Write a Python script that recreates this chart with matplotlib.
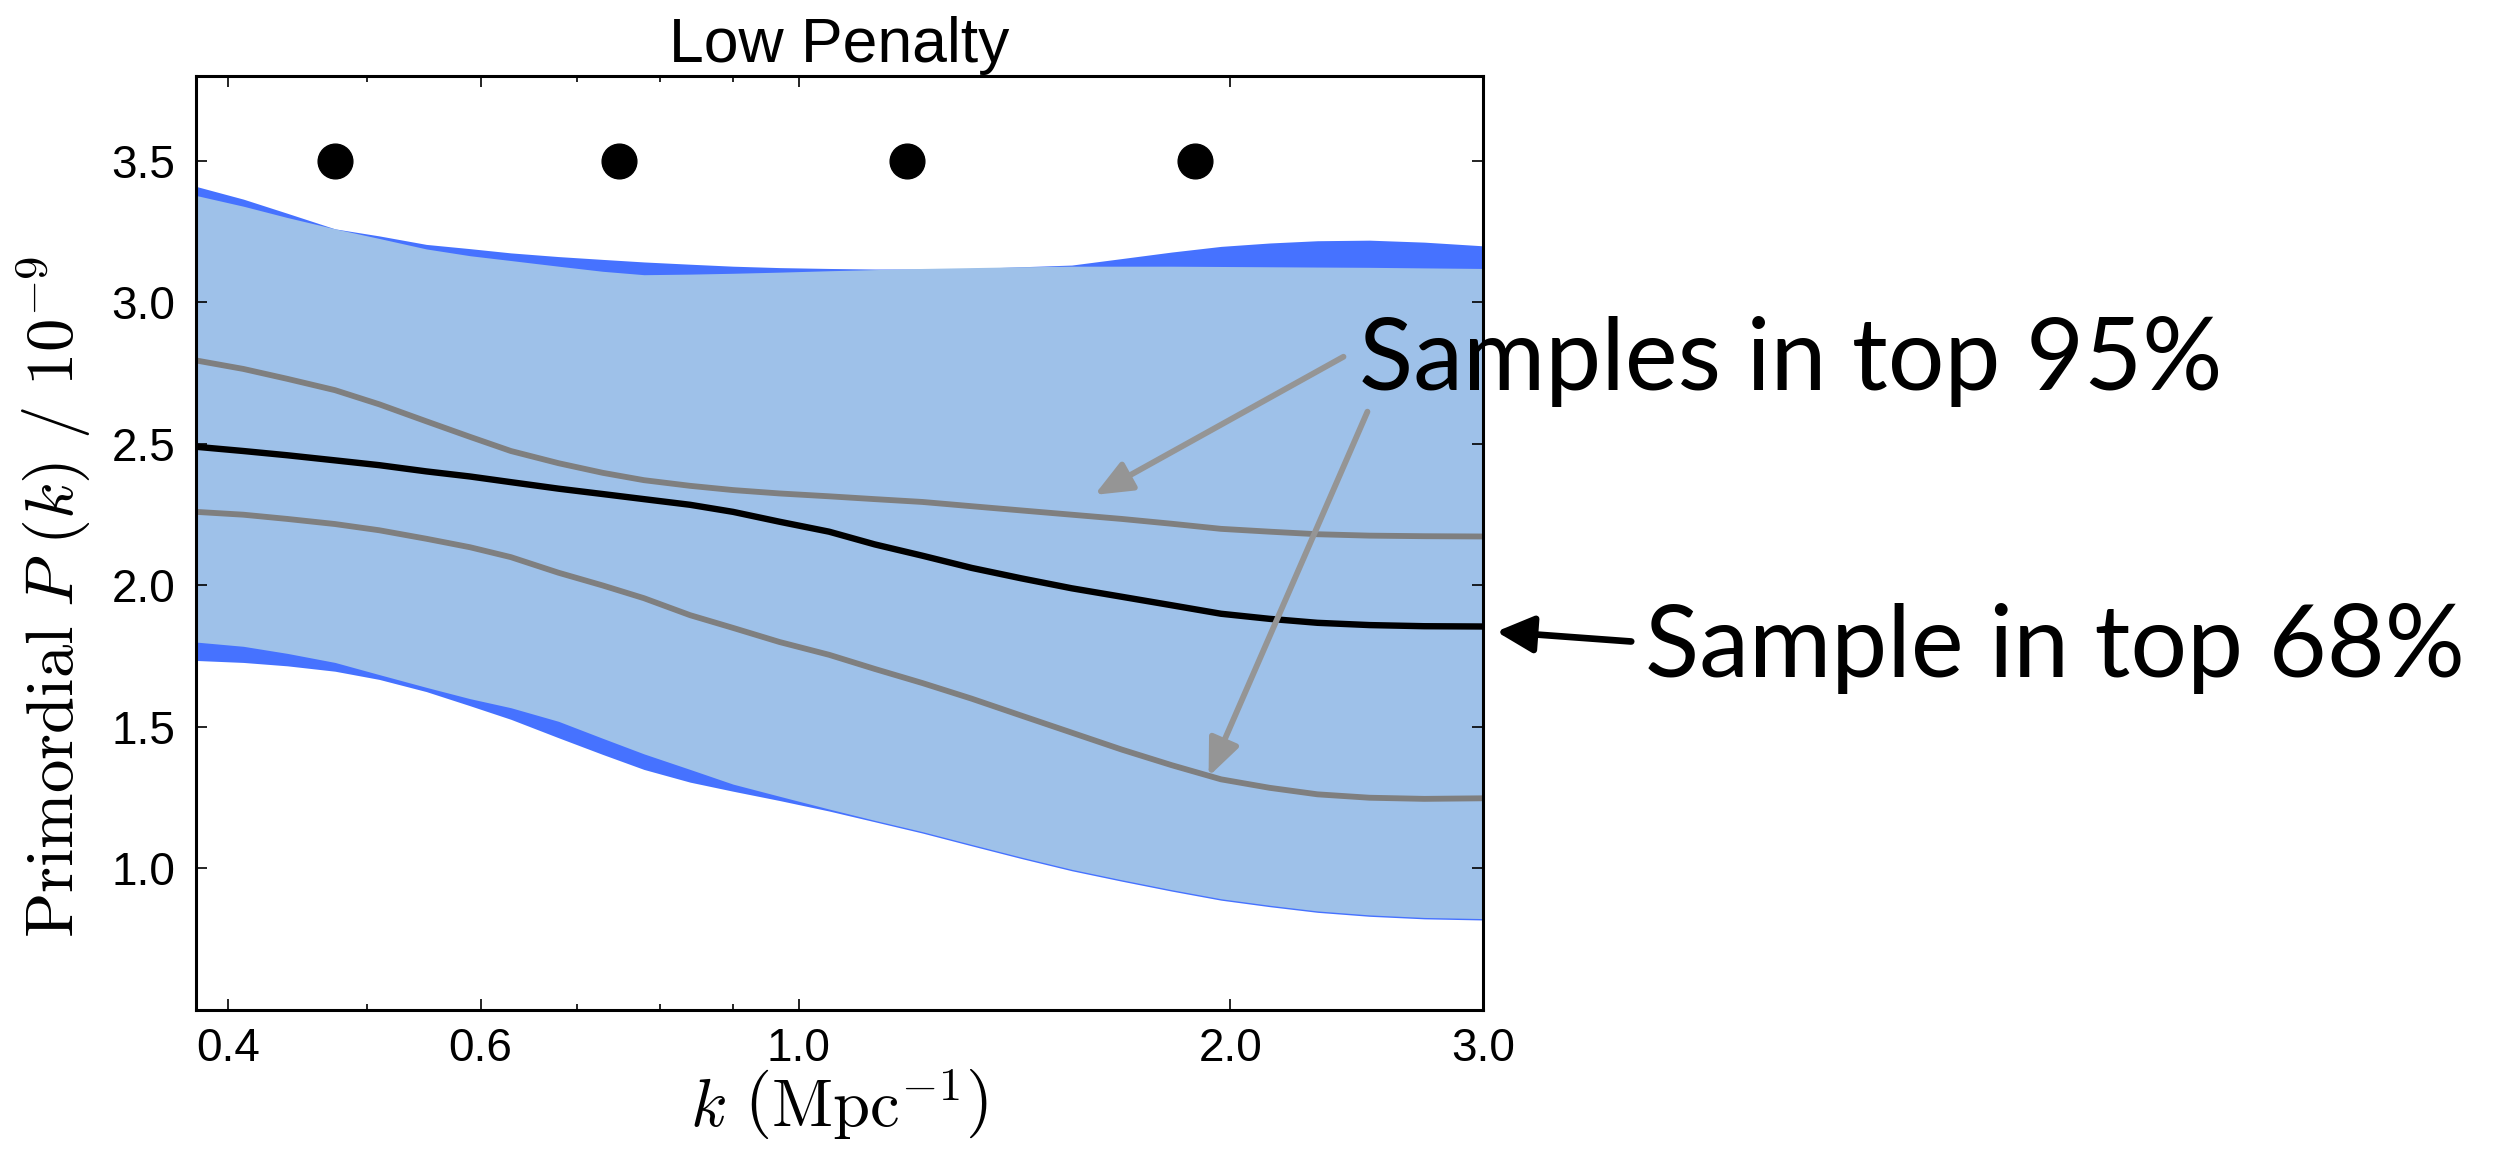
import numpy as np
import matplotlib
matplotlib.use("Agg")
import matplotlib.pyplot as plt

plt.rcParams['font.family'] = ['Liberation Sans', 'DejaVu Sans']
plt.rcParams['mathtext.fontset'] = 'cm'

# k grid (Mpc^-1) shared by every curve
k = [0.38, 0.41, 0.44, 0.475, 0.51, 0.55, 0.59, 0.63, 0.68, 0.73,
     0.78, 0.84, 0.9, 0.97, 1.05, 1.13, 1.22, 1.32, 1.43, 1.55,
     1.68, 1.82, 1.97, 2.13, 2.3, 2.5, 2.73, 3.0]

# outer (dark) band
outer_hi = [3.41, 3.365, 3.315, 3.26, 3.235, 3.205, 3.19, 3.175, 3.162, 3.152,
            3.143, 3.135, 3.128, 3.123, 3.12, 3.118, 3.118, 3.12, 3.126, 3.132,
            3.155, 3.178, 3.198, 3.21, 3.218, 3.22, 3.213, 3.20]
outer_lo = [1.735, 1.728, 1.716, 1.697, 1.668, 1.625, 1.575, 1.527, 1.462, 1.403,
            1.35, 1.305, 1.273, 1.24, 1.203, 1.165, 1.125, 1.08, 1.035, 0.992,
            0.955, 0.92, 0.888, 0.865, 0.845, 0.831, 0.822, 0.818]

# inner (light) band
inner_hi = [3.378, 3.34, 3.30, 3.26, 3.226, 3.189, 3.165, 3.148, 3.128, 3.11,
            3.098, 3.10, 3.103, 3.107, 3.112, 3.116, 3.12, 3.123, 3.126, 3.128,
            3.128, 3.128, 3.127, 3.126, 3.125, 3.124, 3.122, 3.12]
inner_lo = [1.80, 1.785, 1.76, 1.728, 1.685, 1.64, 1.60, 1.568, 1.52, 1.46,
            1.405, 1.35, 1.298, 1.255, 1.21, 1.17, 1.13, 1.085, 1.04, 0.997,
            0.96, 0.925, 0.893, 0.87, 0.85, 0.836, 0.827, 0.823]

# sample curves
top68 = [2.49, 2.475, 2.46, 2.442, 2.425, 2.403, 2.385, 2.365, 2.342, 2.323,
         2.305, 2.285, 2.26, 2.225, 2.19, 2.145, 2.105, 2.062, 2.025, 1.99,
         1.96, 1.93, 1.90, 1.882, 1.868, 1.86, 1.856, 1.855]
top95_a = [2.795, 2.765, 2.73, 2.69, 2.64, 2.58, 2.525, 2.475, 2.432, 2.398,
           2.372, 2.352, 2.337, 2.325, 2.315, 2.305, 2.295, 2.28, 2.265, 2.25,
           2.235, 2.218, 2.20, 2.19, 2.181, 2.176, 2.174, 2.173]
top95_b = [2.26, 2.25, 2.235, 2.217, 2.195, 2.165, 2.135, 2.10, 2.045, 2.0,
           1.955, 1.895, 1.85, 1.80, 1.755, 1.705, 1.655, 1.60, 1.54, 1.48,
           1.42, 1.365, 1.315, 1.285, 1.262, 1.25, 1.246, 1.248]

# knot positions
knot_k = [0.475, 0.75, 1.19, 1.89]
knot_y = [3.5, 3.5, 3.5, 3.5]

xticks = [0.4, 0.6, 1.0, 2.0, 3.0]
xminor = [0.5, 0.7, 0.8, 0.9]
yticks = [1.0, 1.5, 2.0, 2.5, 3.0, 3.5]

W, H = 2513, 1155
fig = plt.figure(figsize=(W / 100, H / 100), dpi=100)
ax = fig.add_axes([196 / W, 1 - 1010 / H, (1483 - 196) / W, (1010 - 76) / H])

ax.fill_between(k, outer_lo, outer_hi, color='#4672FF', lw=0)
ax.fill_between(k, inner_lo, inner_hi, color='#9EC1E9', lw=0)
ax.plot(k, top95_a, color='#7F7F7F', lw=4.2)
ax.plot(k, top95_b, color='#7F7F7F', lw=4.2)
ax.plot(k, top68, color='black', lw=4.6)
ax.plot(knot_k, knot_y, 'o', color='black', ms=25, ls='none')

ax.set_xscale('log')
ax.set_xlim(0.38, 3.0)
ax.set_ylim(0.5, 3.8)
ax.set_xticks(xticks)
ax.set_xticks(xminor, minor=True)
ax.set_xticklabels(['%.1f' % t for t in xticks])
ax.set_xticklabels([], minor=True)
ax.set_yticks(yticks)
ax.set_yticklabels(['%.1f' % t for t in yticks])

ax.tick_params(which='both', direction='in', top=True, right=True, width=1.2)
ax.tick_params(which='major', length=8, labelsize=33)
ax.tick_params(which='minor', length=4)
ax.tick_params(axis='y', pad=15)
ax.tick_params(axis='x', pad=12)
for s in ax.spines.values():
    s.set_linewidth(2.2)

ax.set_title('Low Penalty', fontsize=45, pad=10)
ax.set_xlabel(r'$k\ \left(\mathrm{Mpc}^{-1}\right)$', fontsize=48, va='baseline')
ax.set_ylabel(r'$\mathrm{Primordial}\ P\ (k)\ /\ 10^{-9}$', fontsize=48)
ax.xaxis.set_label_coords(0.5, -0.125)
ax.yaxis.set_label_coords(-0.08, 0.442)

# annotations
ann_font = ['Lato', 'DejaVu Sans']
fig.text(1359 / W, 1 - 390 / H, 'Samples in top 95%', fontsize=72,
         family=ann_font, va='baseline', ha='left')
fig.text(1645 / W, 1 - 677 / H, 'Sample in top 68%', fontsize=72,
         family=ann_font, va='baseline', ha='left')

gray_arrow = dict(arrowstyle='-|>,head_length=0.9,head_width=0.38', mutation_scale=25,
                  lw=4.2, color='#959595', shrinkA=0, shrinkB=0)
ax.annotate('', xy=(1.608, 2.32), xytext=(2.398, 2.808), arrowprops=gray_arrow,
            annotation_clip=False)
ax.annotate('', xy=(1.931, 1.325), xytext=(2.492, 2.614), arrowprops=gray_arrow,
            annotation_clip=False)
ax.annotate('', xy=(3.065, 1.837), xytext=(3.806, 1.802),
            arrowprops=dict(arrowstyle='-|>,head_length=0.9,head_width=0.45',
                            mutation_scale=25, lw=4.8, color='black',
                            shrinkA=0, shrinkB=0),
            annotation_clip=False)

fig.savefig('out.png', dpi=100)
